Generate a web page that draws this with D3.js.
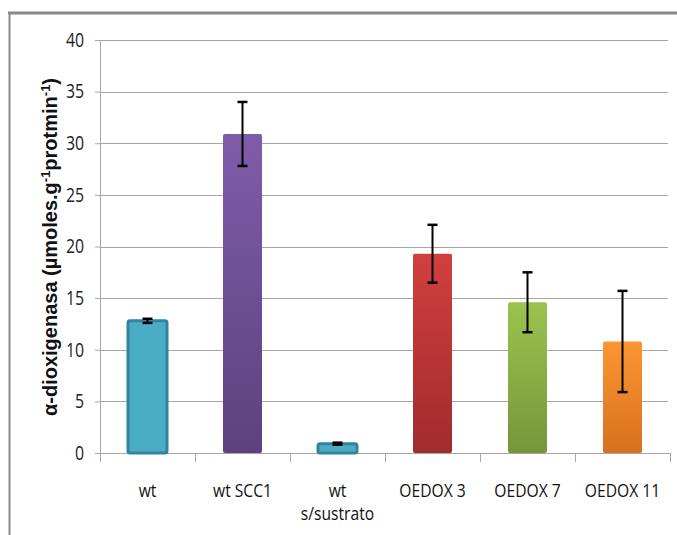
<!DOCTYPE html>
<html>
<head>
<meta charset="utf-8">
<script src="https://cdn.jsdelivr.net/npm/d3@7/dist/d3.min.js"></script>
<style>
  html, body { margin: 0; padding: 0; background: #fff; }
  svg { display: block; }
</style>
</head>
<body>
<svg id="chart" width="677" height="535"></svg>
<script>
// Enzyme activity per line, with standard deviation
const categories = ["wt", "wt SCC1", "wt\ns/sustrato", "OEDOX 3", "OEDOX 7", "OEDOX 11"];
const values = [12.8, 30.9, 0.9, 19.3, 14.6, 10.8];
const errors = [0.2, 3.1, 0.1, 2.8, 2.9, 4.9];
const yTicks = [0, 5, 10, 15, 20, 25, 30, 35, 40];
const fillTop = ["#4bacc6", "#7f5ca9", "#4bacc6", "#d23f3f", "#9bc34f", "#fb9633"];
const fillBottom = ["#4bacc6", "#5d417f", "#4bacc6", "#a02b2d", "#76963a", "#d9701f"];
const strokes = ["#31849b", "none", "#31849b", "none", "none", "none"];

const svg = d3.select("#chart");
const font = "'Open Sans', sans-serif";

// outer frame
svg.append("line").attr("x1", 8).attr("x2", 677).attr("y1", 13).attr("y2", 13)
  .attr("stroke", "#8a8a8a").attr("stroke-width", 3);
svg.append("line").attr("x1", 9.5).attr("x2", 9.5).attr("y1", 12).attr("y2", 535)
  .attr("stroke", "#8a8a8a").attr("stroke-width", 2);

const plotLeft = 100, plotRight = 670, plotTop = 40, plotBottom = 453;

const x = d3.scaleBand().domain(categories).range([plotLeft, plotRight]).paddingInner(0).paddingOuter(0);
const y = d3.scaleLinear().domain([0, 40]).range([plotBottom, plotTop]);

// gradients
const defs = svg.append("defs");
categories.forEach((c, i) => {
  const g = defs.append("linearGradient").attr("id", "g" + i)
    .attr("x1", 0).attr("x2", 0).attr("y1", 0).attr("y2", 1);
  g.append("stop").attr("offset", "0%").attr("stop-color", fillTop[i]);
  g.append("stop").attr("offset", "100%").attr("stop-color", fillBottom[i]);
});

// horizontal gridlines
svg.append("g").selectAll("line").data(yTicks.filter(d => d > 0)).join("line")
  .attr("x1", plotLeft).attr("x2", plotRight - 2)
  .attr("y1", d => Math.round(y(d)) + 0.5).attr("y2", d => Math.round(y(d)) + 0.5)
  .attr("stroke", "#a6a6a6").attr("stroke-width", 1);

// y axis
const yAxis = svg.append("g").attr("transform", `translate(${plotLeft},0)`)
  .call(d3.axisLeft(y).tickValues(yTicks).tickSize(5).tickPadding(11));
yAxis.select(".domain").attr("stroke", "#a6a6a6");
yAxis.selectAll(".tick line").attr("stroke", "#a6a6a6");
yAxis.selectAll(".tick text").attr("font-family", font).attr("font-size", 18)
  .attr("fill", "#222").attr("transform", "scale(0.88,1.1)").attr("x", -16 / 0.88);

// x axis
const xAxis = svg.append("g").attr("transform", `translate(0,${plotBottom})`);
xAxis.append("line").attr("x1", plotLeft - 5).attr("x2", plotRight).attr("y1", 0.5).attr("y2", 0.5)
  .attr("stroke", "#a6a6a6");
xAxis.selectAll("line.tk").data(categories.map(c => x(c)).concat([x(categories[categories.length - 1]) + x.bandwidth()]))
  .join("line").attr("class", "tk")
  .attr("x1", d => Math.round(d) + 0.5).attr("x2", d => Math.round(d) + 0.5)
  .attr("y1", 0).attr("y2", 9).attr("stroke", "#a6a6a6");

// bars
const bw = 39;
svg.append("g").selectAll("rect").data(categories).join("rect")
  .attr("x", (c) => x(c) + x.bandwidth() / 2 - bw / 2)
  .attr("y", (c, i) => y(values[i]))
  .attr("width", bw)
  .attr("height", (c, i) => y(0) - y(values[i]))
  .attr("fill", (c, i) => `url(#g${i})`)
  .attr("stroke", (c, i) => strokes[i])
  .attr("stroke-width", 3)
  .attr("rx", 2);

// error bars
const eg = svg.append("g").attr("stroke", "#000").attr("stroke-width", 2);
categories.forEach((c, i) => {
  const cx = x(c) + x.bandwidth() / 2;
  const y1 = y(values[i] + errors[i]), y2 = y(values[i] - errors[i]);
  eg.append("line").attr("x1", cx).attr("x2", cx).attr("y1", y1).attr("y2", y2);
  eg.append("line").attr("x1", cx - 5).attr("x2", cx + 5).attr("y1", y1).attr("y2", y1).attr("stroke-width", 2.5);
  eg.append("line").attr("x1", cx - 5).attr("x2", cx + 5).attr("y1", y2).attr("y2", y2).attr("stroke-width", 2.5);
});

// category labels
categories.forEach(c => {
  const lines = c.split("\n");
  const t = svg.append("text").attr("text-anchor", "middle")
    .attr("font-family", font).attr("font-size", 17).attr("font-weight", 500)
    .attr("fill", "#111").attr("transform", `translate(${x(c) + x.bandwidth() / 2},0) scale(0.92,1.08)`);
  lines.forEach((l, k) => {
    t.append("tspan").attr("x", 0).attr("y", (497 + k * 23) / 1.08).text(l);
  });
});

// y title
const title = svg.append("text")
  .attr("transform", "translate(57,247) rotate(-90)")
  .attr("text-anchor", "middle")
  .attr("font-family", "'Liberation Sans', sans-serif").attr("font-weight", "bold")
  .attr("font-size", 20).attr("fill", "#111");
title.append("tspan").text("α-dioxigenasa (µmoles.g");
title.append("tspan").attr("baseline-shift", "super").attr("font-size", 13).text("-1");
title.append("tspan").text("protmin");
title.append("tspan").attr("baseline-shift", "super").attr("font-size", 13).text("-1");
title.append("tspan").text(")");
</script>
</body>
</html>
